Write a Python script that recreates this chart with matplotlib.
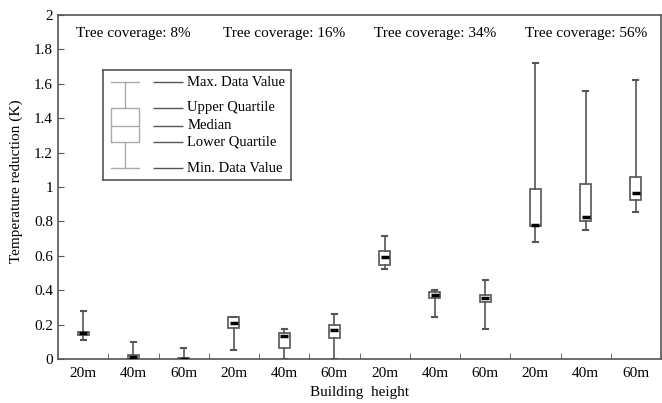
import matplotlib
matplotlib.use('Agg')
import matplotlib.pyplot as plt
import numpy as np

plt.rcParams['font.family'] = ['Liberation Serif', 'DejaVu Serif']

heights = ['20m', '40m', '60m'] * 4
coverage = ['8%', '16%', '34%', '56%']
whislo = [0.11, 0.0, 0.0, 0.055, 0.0, 0.0, 0.525, 0.243, 0.173, 0.68, 0.752, 0.853]
q1 = [0.14, 0.0, 0.0, 0.183, 0.066, 0.125, 0.544, 0.357, 0.334, 0.771, 0.80, 0.927]
med = [0.15, 0.013, 0.003, 0.21, 0.135, 0.17, 0.593, 0.375, 0.354, 0.78, 0.824, 0.966]
q3 = [0.16, 0.025, 0.006, 0.243, 0.153, 0.20, 0.626, 0.39, 0.371, 0.991, 1.015, 1.06]
whishi = [0.28, 0.10, 0.066, 0.243, 0.175, 0.264, 0.717, 0.40, 0.462, 1.718, 1.555, 1.62]
legend_labels = ['Max. Data Value', 'Upper Quartile', 'Median', 'Lower Quartile', 'Min. Data Value']

edge = '#555555'
fig = plt.figure(figsize=(6.62, 4.03), dpi=100)
ax = fig.add_axes([0.0876, 0.109, 0.911, 0.854])

pos = np.arange(len(heights))
stats = [dict(whislo=a, q1=b, med=c, q3=d, whishi=e, fliers=[])
         for a, b, c, d, e in zip(whislo, q1, med, q3, whishi)]
ax.bxp(stats, positions=pos, widths=0.22, patch_artist=True, showfliers=False,
       boxprops=dict(facecolor='white', edgecolor=edge, linewidth=1.2),
       whiskerprops=dict(color=edge, linewidth=1.2),
       capprops=dict(color=edge, linewidth=1.5), capwidths=0.1,
       medianprops=dict(visible=False))
ax.hlines(med, pos - 0.08, pos + 0.08, colors='black', linewidth=2.5, zorder=5)

for i, c in enumerate(coverage):
    ax.text(3 * i + 1, 1.89, 'Tree coverage: ' + c, ha='center', va='center', fontsize=11)

ax.set_xlim(-0.5, 11.5)
ax.set_ylim(0, 2)
ax.set_xticks(pos)
ax.set_xticklabels(heights, fontsize=11)
ax.set_xticks(np.arange(0.5, 11, 1), minor=True)
ax.tick_params(axis='x', which='major', length=0, pad=6)
ax.tick_params(axis='x', which='minor', direction='in', length=4, color=edge)
ax.set_yticks(np.arange(0, 2.01, 0.2))
ax.set_yticklabels(['%g' % round(v, 1) for v in np.arange(0, 2.01, 0.2)], fontsize=11)
ax.tick_params(axis='y', direction='in', length=4, color=edge)
for s in ax.spines.values():
    s.set_color(edge)
    s.set_linewidth(1.2)
ax.set_xlabel('Building  height', fontsize=11, labelpad=4)
ax.set_ylabel('Temperature reduction (K)', fontsize=11)
ax.yaxis.set_label_coords(-0.058, 0.517)

# legend key drawn as a small boxplot in an inset
lax = ax.inset_axes([0.0746, 0.520, 0.311, 0.320])
lax.set_xlim(0, 1)
lax.set_ylim(0, 1)
levels = [0.89, 0.655, 0.495, 0.345, 0.109]
light = '#aaaaaa'
lax.bxp([dict(whislo=levels[4], q1=levels[3], med=levels[2], q3=levels[1], whishi=levels[0], fliers=[])],
        positions=[0.117], widths=0.148, showfliers=False,
        boxprops=dict(color=light, linewidth=1), whiskerprops=dict(color=light, linewidth=1),
        capprops=dict(color=light, linewidth=1), capwidths=0.148,
        medianprops=dict(color=light, linewidth=1))
lax.hlines(levels, 0.266, 0.426, colors=edge, linewidth=1)
for y, t in zip(levels, legend_labels):
    lax.text(0.45, y, t, va='center', ha='left', fontsize=10.5)
lax.set_xticks([])
lax.set_yticks([])
for s in lax.spines.values():
    s.set_color(edge)
    s.set_linewidth(1.2)

fig.savefig('out.png', dpi=100)
